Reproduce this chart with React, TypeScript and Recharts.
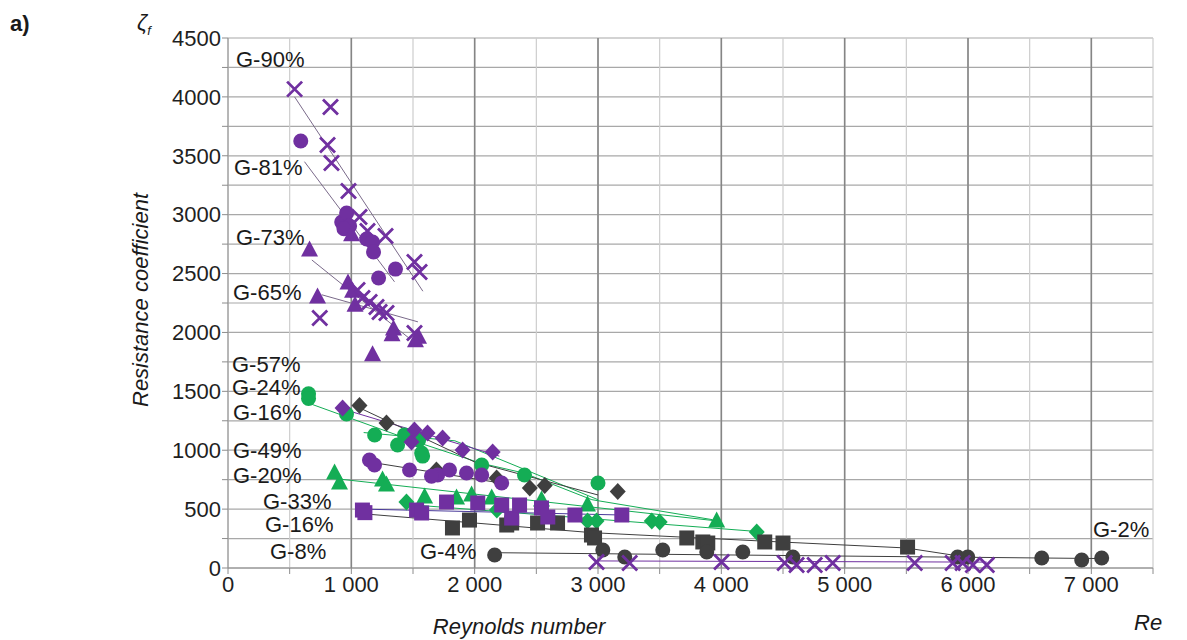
import React from 'react';
import {
  ScatterChart,
  Scatter,
  XAxis,
  YAxis,
  CartesianGrid,
  ReferenceLine,
} from 'recharts';

// colours used in the original figure
const PURPLE = '#7030a0';
const GREEN = '#14ad55';
const DARK = '#3f3f3f';

type Pt = [number, number]; // [Re, zeta]

// measured points
const g90Cross: Pt[] = [
  [540, 4066], [831, 3914], [807, 3591], [839, 3438], [977, 3200],
  [1066, 2980], [1131, 2861], [1277, 2818], [1512, 2598], [1553, 2513],
];
const g81Circle: Pt[] = [
  [590, 3625], [922, 2937], [962, 3014], [986, 2904], [940, 2880],
  [1124, 2793], [1172, 2768], [1180, 2683], [1358, 2538], [1221, 2462],
];
const g73Triangle: Pt[] = [
  [661, 2700], [1002, 2830], [973, 2420], [1342, 2030], [1520, 1930], [1172, 1810],
];
const g65Triangle: Pt[] = [
  [726, 2300], [1010, 2350], [1030, 2230], [1330, 1980], [1545, 1960],
];
const g65Cross: Pt[] = [
  [744, 2122], [1050, 2360], [1090, 2292], [1148, 2258], [1204, 2216],
  [1229, 2174], [1285, 2165], [1512, 1995],
];
const g24Circle: Pt[] = [
  [653, 1480], [653, 1440], [961, 1307], [1189, 1129], [1375, 1044],
  [1431, 1129], [1546, 1087], [1570, 976], [1578, 950], [2057, 874],
  [2404, 790], [3000, 722],
];
const g16Diamond: Pt[] = [
  [929, 1358], [1488, 1070], [1512, 1171], [1618, 1146], [1740, 1104],
  [1902, 1002], [2146, 985],
];
const g16DarkDiamond: Pt[] = [
  [1066, 1380], [1285, 1231], [1690, 832], [2178, 764], [2447, 679],
  [2568, 700], [3160, 650],
];
const g49Circle: Pt[] = [
  [1147, 917], [1188, 875], [1472, 832], [1700, 790], [1796, 832],
  [1934, 807], [2057, 790], [2219, 722], [1650, 780],
];
const g20Triangle: Pt[] = [
  [864, 806], [904, 721], [1253, 747], [1285, 705], [1594, 603],
  [1853, 594], [1975, 620], [2138, 594], [2542, 577], [2915, 535], [3962, 400],
];
const g20Diamond: Pt[] = [
  [1447, 560], [2180, 492], [2915, 400], [2988, 400], [3436, 400],
  [3500, 390], [4287, 306],
];
const g33Square: Pt[] = [
  [1090, 492], [1110, 470], [1529, 492], [1570, 467], [1772, 560],
  [2025, 552], [2219, 535], [2300, 424], [2364, 535], [2542, 510],
  [2593, 433], [2813, 450], [3193, 450],
];
const g16Square: Pt[] = [
  [1820, 340], [1958, 407], [2260, 365], [2300, 382], [2510, 382],
  [2672, 382], [2947, 280], [2972, 255], [3720, 255], [3850, 221],
  [3890, 212], [4352, 221], [4500, 212], [5510, 178],
];
const g4Circle: Pt[] = [
  [2162, 110], [3039, 153], [3217, 93], [3525, 153], [3882, 136],
  [4174, 136], [4580, 93], [5916, 93], [5998, 93], [6598, 85],
  [6922, 68], [7084, 85],
];
const g2Cross: Pt[] = [
  [2988, 51], [3257, 42], [4002, 51], [4514, 42], [4610, 25],
  [4757, 25], [4903, 42], [5568, 42], [5876, 42], [5957, 42],
  [6040, 25], [6152, 25],
];

// trend lines
const fitG90: Pt[] = [[540, 4000], [1580, 2350]];
const fitG81: Pt[] = [[620, 3450], [1350, 2430]];
const fitG73: Pt[] = [[680, 2615], [1470, 1950]];
const fitG65: Pt[] = [[760, 2320], [1540, 2090]];
const fitG24: Pt[] = [[653, 1400], [1500, 1080], [2050, 890], [2400, 806], [2950, 580], [3930, 410]];
const fitG16: Pt[] = [[929, 1350], [2200, 950]];
const fitDarkDiamond: Pt[] = [[1066, 1360], [2000, 900], [3000, 620]];
const fitGreen2: Pt[] = [[1100, 1150], [1840, 1080], [3000, 580]];
const fitG49: Pt[] = [[1147, 900], [2219, 720]];
const fitG20: Pt[] = [[860, 760], [3960, 400]];
const fitG20Diamond: Pt[] = [[1447, 540], [4290, 310]];
const fitG33: Pt[] = [[1090, 500], [3193, 450]];
const fitG16Square: Pt[] = [[1100, 460], [2950, 300], [4500, 220], [5500, 170], [6000, 90]];
const fitG4: Pt[] = [[2162, 130], [7084, 80]];
const fitG2: Pt[] = [[2988, 60], [6152, 50]];

const xTicks = [0, 500, 1000, 1500, 2000, 2500, 3000, 3500, 4000, 4500, 5000, 5500, 6000, 6500, 7000, 7500];
const yTicks = [0, 250, 500, 750, 1000, 1250, 1500, 1750, 2000, 2250, 2500, 2750, 3000, 3250, 3500, 3750, 4000, 4250, 4500];
const majorX = [1000, 2000, 3000, 4000, 5000, 6000, 7000];

const toObj = (arr: Pt[]) => arr.map(([x, y]) => ({ x, y }));

const cross = (color: string) => (p: any) => (
  <path
    d={`M${p.cx - 7.5},${p.cy - 7.5}L${p.cx + 7.5},${p.cy + 7.5}M${p.cx - 7.5},${p.cy + 7.5}L${p.cx + 7.5},${p.cy - 7.5}`}
    stroke={color}
    strokeWidth={2.8}
    fill="none"
  />
);
const circle = (color: string) => (p: any) => <circle cx={p.cx} cy={p.cy} r={7.5} fill={color} />;
const triangle = (color: string) => (p: any) => (
  <path d={`M${p.cx},${p.cy - 9.5}L${p.cx + 8.5},${p.cy + 6.5}L${p.cx - 8.5},${p.cy + 6.5}Z`} fill={color} />
);
const diamond = (color: string) => (p: any) => (
  <path d={`M${p.cx},${p.cy - 8.5}L${p.cx + 8},${p.cy}L${p.cx},${p.cy + 8.5}L${p.cx - 8},${p.cy}Z`} fill={color} />
);
const square = (color: string) => (p: any) => (
  <rect x={p.cx - 7.5} y={p.cy - 7.5} width={15} height={15} fill={color} />
);
const none = () => <g />;

const fits: { data: Pt[]; color: string }[] = [
  { data: fitG90, color: '#7a6a8a' },
  { data: fitG81, color: '#7a6a8a' },
  { data: fitG73, color: '#7a6a8a' },
  { data: fitG65, color: '#7a6a8a' },
  { data: fitG24, color: GREEN },
  { data: fitGreen2, color: GREEN },
  { data: fitG16, color: PURPLE },
  { data: fitDarkDiamond, color: DARK },
  { data: fitG49, color: DARK },
  { data: fitG20, color: GREEN },
  { data: fitG20Diamond, color: GREEN },
  { data: fitG33, color: '#4a3a9a' },
  { data: fitG16Square, color: DARK },
  { data: fitG4, color: DARK },
  { data: fitG2, color: PURPLE },
];

const series: { data: Pt[]; shape: (p: any) => React.ReactElement }[] = [
  { data: g90Cross, shape: cross(PURPLE) },
  { data: g81Circle, shape: circle(PURPLE) },
  { data: g73Triangle, shape: triangle(PURPLE) },
  { data: g65Triangle, shape: triangle(PURPLE) },
  { data: g65Cross, shape: cross(PURPLE) },
  { data: g24Circle, shape: circle(GREEN) },
  { data: g16DarkDiamond, shape: diamond(DARK) },
  { data: g16Diamond, shape: diamond(PURPLE) },
  { data: g49Circle, shape: circle(PURPLE) },
  { data: g20Triangle, shape: triangle(GREEN) },
  { data: g20Diamond, shape: diamond(GREEN) },
  { data: g16Square, shape: square(DARK) },
  { data: g33Square, shape: square(PURPLE) },
  { data: g4Circle, shape: circle(DARK) },
  { data: g2Cross, shape: cross(PURPLE) },
];

const seriesLabels = [
  { text: 'G-90%', left: 236, top: 60 },
  { text: 'G-81%', left: 234, top: 168 },
  { text: 'G-73%', left: 236, top: 238 },
  { text: 'G-65%', left: 233, top: 293 },
  { text: 'G-57%', left: 232, top: 365 },
  { text: 'G-24%', left: 232, top: 388 },
  { text: 'G-16%', left: 233, top: 413 },
  { text: 'G-49%', left: 233, top: 451 },
  { text: 'G-20%', left: 233, top: 476 },
  { text: 'G-33%', left: 263, top: 502 },
  { text: 'G-16%', left: 265, top: 525 },
  { text: 'G-8%', left: 270, top: 552 },
  { text: 'G-4%', left: 420, top: 552 },
  { text: 'G-2%', left: 1093, top: 530 },
];

const fmtX = (v: number) => (v % 1000 === 0 && v < 7500 ? (v === 0 ? '0' : `${v / 1000} 000`) : '');
const fmtY = (v: number) => (v % 500 === 0 ? String(v) : '');

export default function App() {
  const tickStyle = { fill: '#1f1f1f', fontSize: 22 };
  return (
    <div
      style={{
        position: 'absolute',
        left: 0,
        top: 0,
        width: 1187,
        height: 640,
        background: '#fff',
        fontFamily: '"Liberation Sans", Arial, sans-serif',
        color: '#1a1a1a',
        overflow: 'hidden',
      }}
    >
      <ScatterChart width={1187} height={640} margin={{ top: 38, right: 34, left: 158, bottom: 42 }}>
        <CartesianGrid vertical={false} stroke="#a8a8a8" strokeWidth={1.2} />
        <CartesianGrid horizontal={false} stroke="#cdcdcd" strokeWidth={1.2} />
        {majorX.map((v) => (
          <ReferenceLine key={v} x={v} stroke="#858585" strokeWidth={1.6} />
        ))}
        <XAxis
          type="number"
          dataKey="x"
          domain={[0, 7500]}
          ticks={xTicks}
          tickFormatter={fmtX}
          interval={0}
          height={30}
          tick={tickStyle}
          tickSize={6}
          tickMargin={2}
          stroke="#8c8c8c"
        />
        <YAxis
          type="number"
          dataKey="y"
          domain={[0, 4500]}
          ticks={yTicks}
          tickFormatter={fmtY}
          interval={0}
          width={70}
          tick={tickStyle}
          tickSize={6}
          tickMargin={1}
          stroke="#8c8c8c"
        />
        {fits.map((f, i) => (
          <Scatter
            key={`fit-${i}`}
            data={toObj(f.data)}
            fill={f.color}
            line={{ stroke: f.color, strokeWidth: 1 }}
            shape={none}
            isAnimationActive={false}
          />
        ))}
        {series.map((s, i) => (
          <Scatter key={`s-${i}`} data={toObj(s.data)} shape={s.shape} isAnimationActive={false} />
        ))}
      </ScatterChart>

      {seriesLabels.map((l, i) => (
        <div
          key={i}
          style={{ position: 'absolute', left: l.left, top: l.top, transform: 'translateY(-50%)', fontSize: 22, lineHeight: 1 }}
        >
          {l.text}
        </div>
      ))}

      <div style={{ position: 'absolute', left: 10, top: 11, fontSize: 22, fontWeight: 'bold' }}>a)</div>
      <div style={{ position: 'absolute', left: 137, top: 10, fontSize: 22, fontStyle: 'italic' }}>
        ζ<sub style={{ fontSize: 13 }}>f</sub>
      </div>
      <div
        style={{
          position: 'absolute',
          left: 141,
          top: 300,
          fontSize: 22,
          fontStyle: 'italic',
          whiteSpace: 'nowrap',
          transform: 'translate(-50%, -50%) rotate(-90deg)',
        }}
      >
        Resistance coefficient
      </div>
      <div
        style={{
          position: 'absolute',
          left: 519,
          top: 627,
          fontSize: 22,
          fontStyle: 'italic',
          whiteSpace: 'nowrap',
          transform: 'translate(-50%, -50%)',
        }}
      >
        Reynolds number
      </div>
      <div style={{ position: 'absolute', left: 1134, top: 610, fontSize: 22, fontStyle: 'italic' }}>Re</div>
    </div>
  );
}
